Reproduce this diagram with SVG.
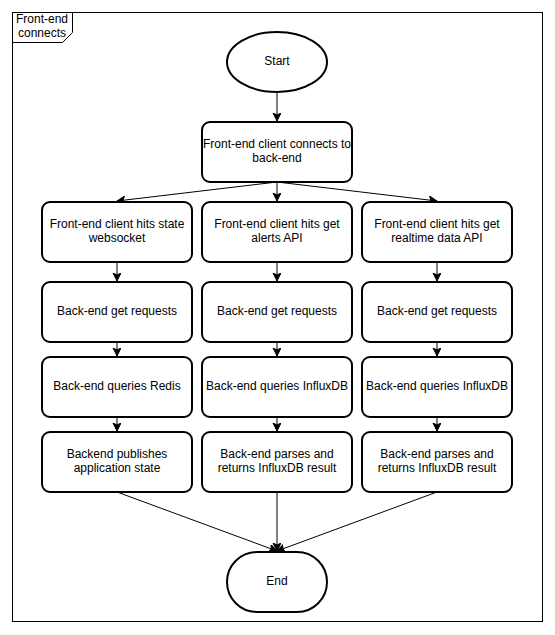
<svg xmlns="http://www.w3.org/2000/svg" width="555" height="635" viewBox="0 0 555 635">
<style>
text{font-family:"Liberation Sans",Arial,sans-serif;font-size:12px;fill:#000;text-anchor:middle}
.box{fill:#fff;stroke:#000;stroke-width:2}
.edge{fill:none;stroke:#000;stroke-width:1}
</style>
<defs>
<marker id="arr" markerUnits="userSpaceOnUse" markerWidth="10" markerHeight="10" refX="8" refY="4" orient="auto">
<path d="M0,0 L8,4 L0,8 L2,4 Z" fill="#000" stroke="#000" stroke-width="1" stroke-linejoin="miter"/>
</marker>
</defs>
<rect width="555" height="635" fill="#fff"/>
<g id="frame">
<rect x="12.5" y="12.5" width="530" height="609" fill="none" stroke="#000" stroke-width="1"/>
<polygon points="12.5,12.5 72.5,12.5 72.5,32.5 62.5,42.5 12.5,42.5" fill="#fff" stroke="#000" stroke-width="1"/>
<text x="42" y="23">Front-end</text>
<text x="42" y="37">connects</text>
</g>
<g id="connectors">
<line class="edge" x1="277" y1="92" x2="277" y2="121" marker-end="url(#arr)"/>
<line class="edge" x1="277" y1="182" x2="117" y2="201" marker-end="url(#arr)"/>
<line class="edge" x1="277" y1="182" x2="277" y2="201" marker-end="url(#arr)"/>
<line class="edge" x1="277" y1="182" x2="437" y2="201" marker-end="url(#arr)"/>
<line class="edge" x1="117" y1="262" x2="117" y2="281" marker-end="url(#arr)"/>
<line class="edge" x1="277" y1="262" x2="277" y2="281" marker-end="url(#arr)"/>
<line class="edge" x1="437" y1="262" x2="437" y2="281" marker-end="url(#arr)"/>
<line class="edge" x1="117" y1="342" x2="117" y2="356" marker-end="url(#arr)"/>
<line class="edge" x1="277" y1="342" x2="277" y2="356" marker-end="url(#arr)"/>
<line class="edge" x1="437" y1="342" x2="437" y2="356" marker-end="url(#arr)"/>
<line class="edge" x1="117" y1="417" x2="117" y2="431" marker-end="url(#arr)"/>
<line class="edge" x1="277" y1="417" x2="277" y2="431" marker-end="url(#arr)"/>
<line class="edge" x1="437" y1="417" x2="437" y2="431" marker-end="url(#arr)"/>
<line class="edge" x1="117" y1="492" x2="277" y2="551" marker-end="url(#arr)"/>
<line class="edge" x1="277" y1="492" x2="277" y2="551" marker-end="url(#arr)"/>
<line class="edge" x1="437" y1="492" x2="277" y2="551" marker-end="url(#arr)"/>
</g>
<g id="start">
<ellipse class="box" cx="277" cy="62" rx="50" ry="30"/>
<text x="277" y="65">Start</text>
</g>
<g id="connect">
<rect class="box" x="202" y="122" width="150" height="60" rx="8"/>
<text x="277" y="148">Front-end client connects to</text>
<text x="277" y="162">back-end</text>
</g>
<g id="hit-state">
<rect class="box" x="42" y="202" width="150" height="60" rx="8"/>
<text x="117" y="228">Front-end client hits state</text>
<text x="117" y="242">websocket</text>
</g>
<g id="hit-alerts">
<rect class="box" x="202" y="202" width="150" height="60" rx="8"/>
<text x="277" y="228">Front-end client hits get</text>
<text x="277" y="242">alerts API</text>
</g>
<g id="hit-realtime">
<rect class="box" x="362" y="202" width="150" height="60" rx="8"/>
<text x="437" y="228">Front-end client hits get</text>
<text x="437" y="242">realtime data API</text>
</g>
<g id="req-1">
<rect class="box" x="42" y="282" width="150" height="60" rx="8"/>
<text x="117" y="315">Back-end get requests</text>
</g>
<g id="req-2">
<rect class="box" x="202" y="282" width="150" height="60" rx="8"/>
<text x="277" y="315">Back-end get requests</text>
</g>
<g id="req-3">
<rect class="box" x="362" y="282" width="150" height="60" rx="8"/>
<text x="437" y="315">Back-end get requests</text>
</g>
<g id="query-redis">
<rect class="box" x="42" y="357" width="150" height="60" rx="8"/>
<text x="117" y="390">Back-end queries Redis</text>
</g>
<g id="query-influx-1">
<rect class="box" x="202" y="357" width="150" height="60" rx="8"/>
<text x="277" y="390">Back-end queries InfluxDB</text>
</g>
<g id="query-influx-2">
<rect class="box" x="362" y="357" width="150" height="60" rx="8"/>
<text x="437" y="390">Back-end queries InfluxDB</text>
</g>
<g id="publish">
<rect class="box" x="42" y="432" width="150" height="60" rx="8"/>
<text x="117" y="458">Backend publishes</text>
<text x="117" y="472">application state</text>
</g>
<g id="parse-1">
<rect class="box" x="202" y="432" width="150" height="60" rx="8"/>
<text x="277" y="458">Back-end parses and</text>
<text x="277" y="472">returns InfluxDB result</text>
</g>
<g id="parse-2">
<rect class="box" x="362" y="432" width="150" height="60" rx="8"/>
<text x="437" y="458">Back-end parses and</text>
<text x="437" y="472">returns InfluxDB result</text>
</g>
<g id="end">
<rect class="box" x="227" y="552" width="100" height="60" rx="30"/>
<text x="277" y="585">End</text>
</g>
</svg>
